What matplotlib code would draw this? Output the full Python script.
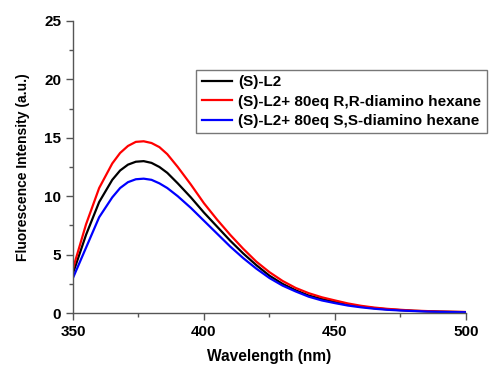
import numpy as np
import matplotlib
matplotlib.use("Agg")
import matplotlib.pyplot as plt
from matplotlib.ticker import MultipleLocator

# wavelength (nm) and fluorescence intensity
wavelength = [350, 355, 360, 365, 368, 371, 374, 377, 380, 383, 386, 390, 395,
              400, 405, 410, 415, 420, 425, 430, 435, 440, 445, 450, 455, 460,
              465, 470, 475, 480, 485, 490, 495, 500]
l2 = [3.4, 6.7, 9.5, 11.4, 12.2, 12.7, 12.95, 13.0, 12.85, 12.5, 12.0, 11.1,
      9.9, 8.6, 7.4, 6.2, 5.1, 4.1, 3.2, 2.5, 1.95, 1.5, 1.2, 0.95, 0.72,
      0.55, 0.42, 0.32, 0.25, 0.19, 0.15, 0.12, 0.1, 0.08]
l2_rr = [3.8, 7.6, 10.7, 12.8, 13.7, 14.3, 14.65, 14.7, 14.55, 14.2, 13.6,
         12.5, 11.0, 9.4, 8.0, 6.7, 5.5, 4.4, 3.5, 2.75, 2.15, 1.7, 1.35,
         1.08, 0.82, 0.62, 0.47, 0.36, 0.28, 0.21, 0.17, 0.13, 0.11, 0.09]
l2_ss = [3.0, 5.6, 8.2, 9.9, 10.7, 11.2, 11.45, 11.5, 11.4, 11.1, 10.7, 10.0,
         9.0, 7.9, 6.8, 5.7, 4.7, 3.8, 3.0, 2.35, 1.85, 1.4, 1.08, 0.85, 0.64,
         0.49, 0.37, 0.28, 0.22, 0.17, 0.13, 0.1, 0.08, 0.07]
labels = ["(S)-L2",
          "(S)-L2+ 80eq R,R-diamino hexane",
          "(S)-L2+ 80eq S,S-diamino hexane"]
colors = ["black", "#ff0000", "#0000ff"]

plt.rcParams['font.family'] = ['Liberation Sans', 'DejaVu Sans']
plt.rcParams['font.weight'] = 'bold'

fig = plt.figure(figsize=(4.93, 3.67), dpi=100)
ax = fig.add_axes([0.148, 0.147, 0.797, 0.796])

for y, lab, c in zip([l2, l2_rr, l2_ss], labels, colors):
    ax.plot(wavelength, y, color=c, linewidth=1.6, label=lab)

ax.set_xlim(350, 500)
ax.set_ylim(0, 25)
ax.xaxis.set_major_locator(MultipleLocator(50))
ax.xaxis.set_minor_locator(MultipleLocator(25))
ax.yaxis.set_major_locator(MultipleLocator(5))
ax.yaxis.set_minor_locator(MultipleLocator(2.5))

for side in ['top', 'right']:
    ax.spines[side].set_visible(False)
for side in ['left', 'bottom']:
    ax.spines[side].set_color('#555555')
    ax.spines[side].set_linewidth(1.0)

ax.tick_params(which='both', direction='out', colors='#555555', width=1.0,
               labelcolor='black', labelsize=11)
ax.tick_params(which='major', length=5)
ax.tick_params(which='minor', length=3)
for t in ax.get_xticklabels() + ax.get_yticklabels():
    t.set_fontweight('bold')

ax.set_xlabel('Wavelength (nm)', fontsize=11.2, fontweight='bold', labelpad=7)
ax.set_ylabel('Fluorescence Intensity (a.u.)', fontsize=10, fontweight='bold',
              labelpad=10)

leg = ax.legend(loc='upper left', bbox_to_anchor=(0.398, 0.809),
                bbox_transform=fig.transFigure, fancybox=False,
                frameon=True, borderaxespad=0, handlelength=2.0,
                handletextpad=0.4, labelspacing=0.35, borderpad=0.35,
                prop={'size': 11, 'weight': 'bold'})
leg.get_frame().set_edgecolor('#555555')
leg.get_frame().set_linewidth(1.0)

fig.savefig('out.png', dpi=100)
